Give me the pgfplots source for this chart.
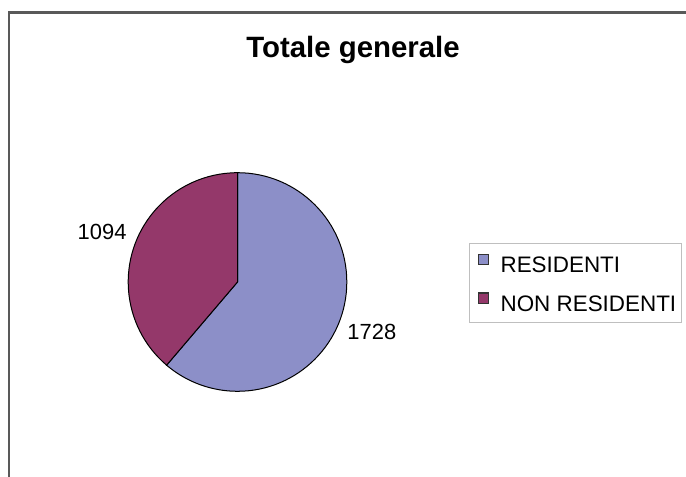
\documentclass[border=0pt]{standalone}
\usepackage{pgfplots}
\pgfplotsset{compat=1.18}
\usepackage{pgfplotstable}
\usepackage{fontspec}
\setmainfont{Liberation Sans}
\definecolor{resCol}{RGB}{140,143,200}
\definecolor{nonCol}{RGB}{148,56,106}
\pgfplotstableread[col sep=comma]{
label,value
RESIDENTI,1728
NON RESIDENTI,1094
}\datatable
\begin{document}
\begin{tikzpicture}
\pgfplotstablegetelem{0}{value}\of\datatable \let\vA\pgfplotsretval
\pgfplotstablegetelem{1}{value}\of\datatable \let\vB\pgfplotsretval
\pgfmathsetmacro{\fA}{\vA/(\vA+\vB)}
\pgfmathsetmacro{\fB}{\vB/(\vA+\vB)}
\pgfmathsetmacro{\angA}{360*\fA}
\pgfmathsetmacro{\endA}{90-\angA}
\pgfmathsetmacro{\midA}{90-\angA/2}
\pgfmathsetmacro{\midB}{\endA-180*\fB}
\def\R{109.3bp}
\useasboundingbox (0,0) rectangle (686bp,477bp);
\draw[line width=2.2bp, color=black!65] (8.7bp,-2bp) -- (8.7bp,464.5bp) -- (690bp,464.5bp);
\node[font=\bfseries\fontsize{29.5}{34}\selectfont, anchor=base] at (353bp,419.3bp) {Totale generale};
\begin{axis}[
  at={(237.5bp,195bp)}, anchor=origin,
  x=109.3bp, y=109.3bp,
  xmin=-1, xmax=1, ymin=-1, ymax=1,
  hide axis, clip=false,
  legend cell align=left,
  legend image code/.code={\path[draw=none,fill=none] (0bp,0bp) -- (26bp,0bp);
    \path[fill=black!80, draw=none] (3.5bp,0bp) rectangle (14.5bp,11.5bp);
    \path[#1, draw=none] (4.7bp,1.2bp) rectangle (13.3bp,10.3bp);},
  legend style={at={(axis description cs:1.559,0.678)}, anchor=north west,
    draw=black!25, line width=1.2bp,
    font=\fontsize{22.5}{26}\selectfont,
    inner xsep=5bp, inner ysep=10bp, row sep=18.5bp, column sep=0bp,
    nodes={inner xsep=0bp, inner ysep=0bp, text height=16bp, text depth=1.5bp}},
]
\draw[fill=resCol, draw=black, line width=1bp] (axis cs:0,0) -- (axis cs:0,1) arc[start angle=90, end angle=\endA, radius=\R] -- cycle;
\draw[fill=nonCol, draw=black, line width=1bp] (axis cs:0,0) -- (axis cs:{cos(\endA)},{sin(\endA)}) arc[start angle=\endA, end angle=-270, radius=\R] -- cycle;
\node[font=\fontsize{22}{26}\selectfont] at (axis cs:{1.31*cos(\midA)},{1.31*sin(\midA)}) {\vA};
\node[font=\fontsize{22}{26}\selectfont] at (axis cs:{1.32*cos(\midB)},{1.32*sin(\midB)}) {\vB};
\addlegendimage{fill=resCol}
\addlegendentry{RESIDENTI}
\addlegendimage{fill=nonCol}
\addlegendentry{NON RESIDENTI}
\end{axis}
\end{tikzpicture}
\end{document}
